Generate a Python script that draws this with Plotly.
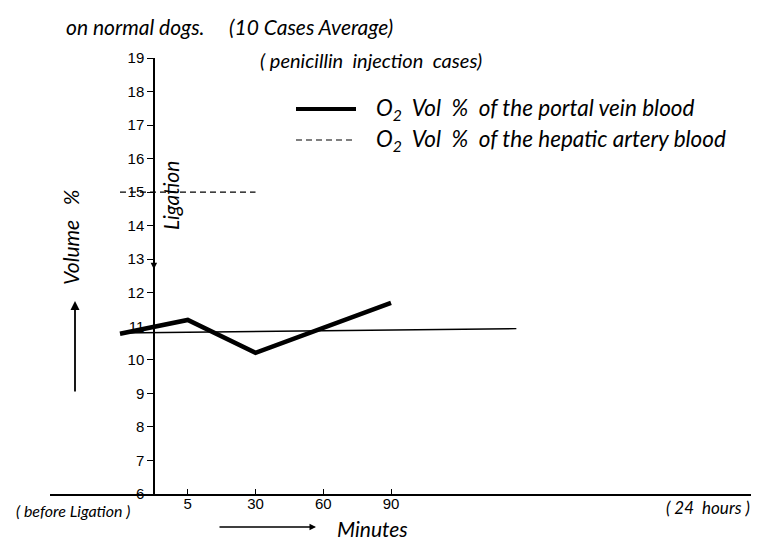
import plotly.graph_objects as go

# ---- data ----
categories = ["(before Ligation)", "5", "30", "60", "90"]
x_index = [0, 1, 2, 3, 4]
portal_vein = [10.78, 11.19, 10.21, 10.97, 11.70]
hepatic_x = [0, 2]
hepatic_artery = [15.0, 15.0]
ref_x = [0, 5.85]
ref_level = [10.80, 10.93]
tick_vals = [1, 2, 3, 4]
tick_text = ["5", "30", "60", "90"]
y_ticks = list(range(6, 20))

W, H = 759, 541
L, R, T, B = 42, 7, 50, 55
PW, PH = W - L - R, H - T - B
XR = [-1.033, 9.446]
YR = [6, 19]

def px(x):
    return (x - L) / PW

def py(y):
    return (H - B - y) / PH

HAND = "Lato, 'DejaVu Sans', sans-serif"
NUM = "'Liberation Sans', Arial, sans-serif"

fig = go.Figure()
fig.add_trace(go.Scatter(x=ref_x, y=ref_level, mode="lines",
                         line=dict(color="black", width=1.4), showlegend=False))
fig.add_trace(go.Scatter(x=hepatic_x, y=hepatic_artery, mode="lines",
                         line=dict(color="black", width=1.2, dash="6px,4px"), showlegend=False))
fig.add_trace(go.Scatter(x=x_index, y=portal_vein, mode="lines",
                         line=dict(color="black", width=4.5), showlegend=False))

ann = []
def text(x, y, s, size=18, xanchor="left", angle=0, font=HAND, style="italic"):
    ann.append(dict(x=px(x), y=py(y), xref="paper", yref="paper", text=s, showarrow=False,
                    xanchor=xanchor, yanchor="middle", textangle=angle,
                    font=dict(family=font, size=size, color="black", style=style)))

text(56, 18, "on normal dogs.     (10 Cases Average)", 21)
text(250, 52, "( penicillin  injection  cases)", 20)
text(366, 101, "O<sub>2</sub>  Vol  %  of the portal vein blood", 22.5)
text(366, 132, "O<sub>2</sub>  Vol  %  of the hepatic artery blood", 22.5)
text(65, 502, "( before Ligation )", 16, xanchor="center")
text(700, 500, "( 24  hours )", 17, xanchor="center")
text(364, 520, "Minutes", 21, xanchor="center")
text(62, 230, "Volume   %", 21, xanchor="center", angle=-90)
text(162, 188, "Ligation", 21, xanchor="center", angle=-90)

# arrows
ann.append(dict(x=px(308), y=py(519), xref="paper", yref="paper", ax=-98, ay=0,
                showarrow=True, arrowhead=2, arrowsize=1, arrowwidth=1.3,
                arrowcolor="black", text=""))
ann.append(dict(x=px(67), y=py(293), xref="paper", yref="paper", ax=0, ay=92,
                showarrow=True, arrowhead=2, arrowsize=1, arrowwidth=1.8,
                arrowcolor="black", text=""))
ann.append(dict(x=0.5, y=12.7, xref="x", yref="y", ax=0, ay=-200,
                showarrow=True, arrowhead=2, arrowsize=1, arrowwidth=1.3,
                arrowcolor="black", text=""))

shapes = [
    dict(type="line", xref="paper", yref="paper", x0=px(288), x1=px(348), y0=py(101), y1=py(101),
         line=dict(color="black", width=4)),
    dict(type="line", xref="paper", yref="paper", x0=px(288), x1=px(348), y0=py(132), y1=py(132),
         line=dict(color="black", width=1.2, dash="6px,4px")),
]

fig.update_layout(
    width=W, height=H, margin=dict(l=L, r=R, t=T, b=B),
    paper_bgcolor="white", plot_bgcolor="white", showlegend=False,
    annotations=ann, shapes=shapes,
    xaxis=dict(range=XR, showgrid=False, zeroline=False, showline=True, linecolor="black",
               linewidth=1.5, tickvals=tick_vals, ticktext=tick_text, ticks="inside", ticklen=5,
               ticklabelstandoff=-5,
               tickcolor="black", tickfont=dict(family=NUM, size=15, color="black")),
    yaxis=dict(range=YR, showgrid=False, zeroline=False, showline=True, linecolor="black",
               linewidth=1.5, anchor="free", position=px(146), tickvals=y_ticks, ticks="outside",
               ticklen=6, tickcolor="black", tickfont=dict(family=NUM, size=15, color="black")),
)

fig.write_html("out.html")
